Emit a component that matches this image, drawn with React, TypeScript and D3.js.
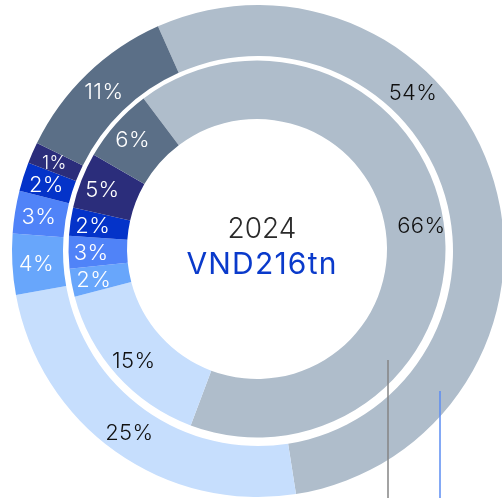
import React from 'react';
import * as d3 from 'd3';

// ring data (clockwise, starting near 12 o'clock)
const categories = ['A', 'B', 'C', 'D', 'E', 'F', 'G'];
const outerValues = [54.2, 24.6, 4.0, 2.8, 1.9, 1.4, 11.1];
const innerValues = [66.0, 15.2, 2.4, 2.8, 2.4, 4.8, 6.4];
const colors = ['#afbdcb', '#c6defd', '#68a6fb', '#5083f8', '#0433c9', '#2b2d7b', '#5b6f87'];
const darkText = [true, true, false, false, false, false, false];
const centerTitle = '2024';
const centerValue = 'VND216tn';

const width = 502;
const height = 498;

function Ring({ values, cx, cy, r0, r1, start, labelR, labelBias }) {
  const pie = d3.pie<number>()
    .sort(null)
    .startAngle(start)
    .endAngle(start + 2 * Math.PI);
  const arcs = pie(values);
  const arc = d3.arc<d3.PieArcDatum<number>>().innerRadius(r0).outerRadius(r1);
  const labelArc = d3.arc<any>().innerRadius(labelR).outerRadius(labelR);

  return (
    <g transform={`translate(${cx},${cy})`}>
      {arcs.map((a, i) => (
        <path key={categories[i]} d={arc(a) || ''} fill={colors[i]} />
      ))}
      {arcs.map((a, i) => {
        // the big slice's label sits off-centre in the original
        const f = labelBias[i] ?? 0.5;
        const mid = a.startAngle + (a.endAngle - a.startAngle) * f;
        const [x, y] = labelArc.centroid({ startAngle: mid, endAngle: mid });
        const small = a.value < 1.5;
        return (
          <text
            key={'l' + categories[i]}
            x={x}
            y={y}
            dy="0.36em"
            textAnchor="middle"
            fontSize={small ? 18 : 22}
            fontWeight={300}
            letterSpacing={0.4}
            fill={darkText[i] ? '#111' : '#fff'}
          >
            {Math.round(a.value)}%
          </text>
        );
      })}
    </g>
  );
}

export default function App() {
  const deg = Math.PI / 180;
  return (
    <div style={{ position: 'fixed', left: 0, top: 0 }}>
      <svg width={width} height={height} style={{ display: 'block', fontFamily: 'Inter, "Noto Sans", sans-serif' }}>
        <Ring
          values={outerValues}
          cx={258}
          cy={251}
          r0={195}
          r1={246}
          start={-24 * deg}
          labelR={222}
          labelBias={[0.35]}
        />
        <Ring
          values={innerValues}
          cx={257}
          cy={249}
          r0={130}
          r1={188.5}
          start={-37 * deg}
          labelR={166}
          labelBias={[]}
        />
        <text x={262} y={238} textAnchor="middle" fontSize={28} fontWeight={300} fill="#2a2a2a">
          {centerTitle}
        </text>
        <text x={262} y={274} textAnchor="middle" fontSize={30} fontWeight={400} letterSpacing={1.2} fill="#0a3acb">
          {centerValue}
        </text>
        <line x1={388} x2={388} y1={360} y2={height} stroke="#858585" strokeWidth={1.5} />
        <line x1={440} x2={440} y1={391} y2={height} stroke="#5b8cf2" strokeWidth={1.5} />
      </svg>
    </div>
  );
}
